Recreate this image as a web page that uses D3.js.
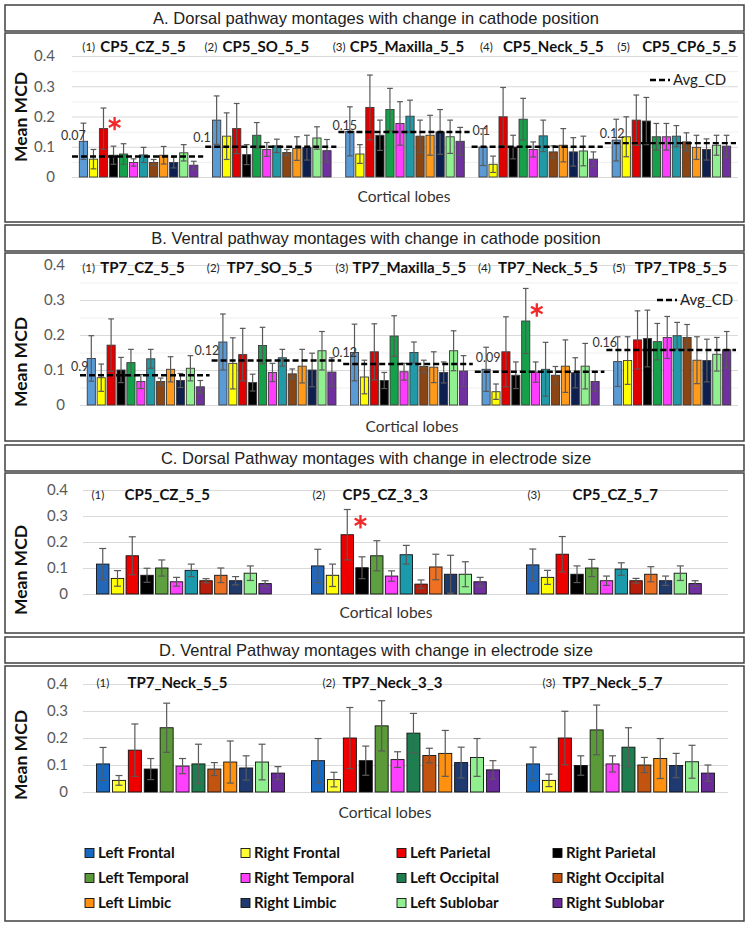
<!DOCTYPE html>
<html>
<head>
<meta charset="utf-8">
<script src="https://cdn.jsdelivr.net/npm/d3@7"></script>
<style>
  body { margin: 0; background: #fff; }
  svg { display: block; }
</style>
</head>
<body>
<script>
var lobes = ['Left Frontal', 'Right Frontal', 'Left Parietal', 'Right Parietal',
             'Left Temporal', 'Right Temporal', 'Left Occipital', 'Right Occipital',
             'Left Limbic', 'Right Limbic', 'Left Sublobar', 'Right Sublobar'];

var yTicks = [0, 0.1, 0.2, 0.3, 0.4];
var yTickLabels = ['0', '0.1', '0.2', '0.3', '0.4'];
var minorTicks = [0.05, 0.15, 0.25, 0.35];

// A. dorsal, cathode position
var montagesA = ['CP5_CZ_5_5', 'CP5_SO_5_5', 'CP5_Maxilla_5_5', 'CP5_Neck_5_5', 'CP5_CP6_5_5'];
var meanA = [
  [0.118, 0.059, 0.160, 0.072, 0.076, 0.048, 0.073, 0.048, 0.072, 0.048, 0.080, 0.039],
  [0.188, 0.135, 0.160, 0.074, 0.138, 0.091, 0.103, 0.081, 0.094, 0.097, 0.129, 0.087],
  [0.151, 0.076, 0.230, 0.138, 0.223, 0.177, 0.201, 0.135, 0.138, 0.149, 0.133, 0.118],
  [0.099, 0.042, 0.199, 0.099, 0.191, 0.091, 0.136, 0.083, 0.105, 0.083, 0.086, 0.059],
  [0.122, 0.133, 0.188, 0.185, 0.133, 0.133, 0.135, 0.116, 0.098, 0.091, 0.105, 0.102]
];
var errA = [
  [0.060, 0.032, 0.068, 0.030, 0.034, 0.012, 0.025, 0.010, 0.029, 0.018, 0.027, 0.013],
  [0.080, 0.077, 0.083, 0.033, 0.042, 0.023, 0.022, 0.010, 0.039, 0.041, 0.037, 0.037],
  [0.081, 0.031, 0.107, 0.050, 0.070, 0.072, 0.053, 0.053, 0.066, 0.074, 0.055, 0.046],
  [0.061, 0.027, 0.097, 0.039, 0.069, 0.025, 0.052, 0.020, 0.055, 0.047, 0.049, 0.024],
  [0.069, 0.066, 0.083, 0.078, 0.044, 0.044, 0.035, 0.030, 0.040, 0.035, 0.033, 0.036]
];
var avgA = [0.068, 0.1, 0.149, 0.1, 0.112];
var avgLabelA = ['0.07', '0.1', '0.15', '0.1', '0.12'];
var starA = [[0, 2]];

// B. ventral, cathode position
var montagesB = ['TP7_CZ_5_5', 'TP7_SO_5_5', 'TP7_Maxilla_5_5', 'TP7_Neck_5_5', 'TP7_TP8_5_5'];
var meanB = [
  [0.133, 0.078, 0.171, 0.100, 0.121, 0.067, 0.132, 0.067, 0.102, 0.070, 0.105, 0.052],
  [0.180, 0.119, 0.144, 0.064, 0.170, 0.093, 0.135, 0.089, 0.111, 0.100, 0.155, 0.094],
  [0.150, 0.080, 0.152, 0.070, 0.197, 0.095, 0.150, 0.110, 0.108, 0.093, 0.155, 0.097],
  [0.102, 0.038, 0.152, 0.085, 0.240, 0.094, 0.102, 0.085, 0.111, 0.092, 0.111, 0.067],
  [0.124, 0.127, 0.186, 0.190, 0.181, 0.193, 0.198, 0.193, 0.128, 0.127, 0.145, 0.158]
];
var errB = [
  [0.065, 0.039, 0.075, 0.036, 0.038, 0.020, 0.027, 0.010, 0.036, 0.020, 0.036, 0.018],
  [0.080, 0.073, 0.075, 0.024, 0.052, 0.026, 0.024, 0.014, 0.048, 0.048, 0.055, 0.041],
  [0.081, 0.048, 0.080, 0.023, 0.058, 0.024, 0.030, 0.018, 0.044, 0.030, 0.057, 0.044],
  [0.063, 0.022, 0.100, 0.038, 0.093, 0.029, 0.077, 0.025, 0.075, 0.043, 0.065, 0.028],
  [0.071, 0.068, 0.083, 0.081, 0.052, 0.060, 0.038, 0.037, 0.067, 0.061, 0.048, 0.052]
];
var avgB = [0.085, 0.127, 0.117, 0.095, 0.157];
var avgLabelB = ['0.9', '0.12', '0.12', '0.09', '0.16'];
var starB = [[3, 4]];

// C. dorsal, electrode size
var montagesC = ['CP5_CZ_5_5', 'CP5_CZ_3_3', 'CP5_CZ_5_7'];
var meanC = [
  [0.115, 0.060, 0.147, 0.072, 0.100, 0.047, 0.091, 0.051, 0.072, 0.051, 0.080, 0.040],
  [0.108, 0.072, 0.228, 0.101, 0.147, 0.069, 0.151, 0.038, 0.104, 0.076, 0.076, 0.047],
  [0.112, 0.064, 0.153, 0.076, 0.100, 0.051, 0.096, 0.051, 0.076, 0.051, 0.080, 0.040]
];
var errC = [
  [0.060, 0.030, 0.073, 0.027, 0.031, 0.017, 0.024, 0.008, 0.028, 0.016, 0.028, 0.011],
  [0.064, 0.043, 0.097, 0.042, 0.058, 0.020, 0.036, 0.016, 0.049, 0.073, 0.048, 0.017],
  [0.061, 0.027, 0.068, 0.032, 0.033, 0.018, 0.024, 0.009, 0.029, 0.018, 0.028, 0.011]
];
var starC = [[1, 2]];

// D. ventral, electrode size
var montagesD = ['TP7_Neck_5_5', 'TP7_Neck_3_3', 'TP7_Neck_5_7'];
var meanD = [
  [0.104, 0.043, 0.155, 0.085, 0.238, 0.096, 0.104, 0.085, 0.111, 0.089, 0.111, 0.070],
  [0.116, 0.046, 0.200, 0.116, 0.245, 0.120, 0.218, 0.135, 0.143, 0.109, 0.128, 0.082],
  [0.104, 0.043, 0.200, 0.098, 0.230, 0.104, 0.166, 0.100, 0.124, 0.098, 0.112, 0.070]
];
var errD = [
  [0.061, 0.018, 0.097, 0.039, 0.091, 0.028, 0.073, 0.024, 0.078, 0.045, 0.066, 0.024],
  [0.082, 0.027, 0.113, 0.054, 0.093, 0.029, 0.073, 0.027, 0.085, 0.057, 0.070, 0.034],
  [0.062, 0.023, 0.099, 0.036, 0.092, 0.030, 0.072, 0.028, 0.074, 0.045, 0.061, 0.030]
];

var colorsAB = ['#5b9bd5', '#ffff00', '#e00000', '#000000', '#15a04a', '#ff3cff',
                '#1f9aa6', '#8b4513', '#ff9a1a', '#0d1f4f', '#90f090', '#7030a0'];
var colorsC = ['#2466b8', '#ffff00', '#ee0000', '#000000', '#5ea040', '#ff40ff',
               '#1a9aaa', '#b81c0a', '#ee7022', '#1f3a6a', '#90f090', '#7030a0'];
var colorsD = ['#1668c0', '#ffff33', '#ee0000', '#000000', '#5a9a38', '#ff40ff',
               '#1e7e50', '#c25410', '#ff9010', '#1f3a70', '#90f090', '#6a2a9a'];

var chartFont = 'Lato, "Open Sans", sans-serif';

var svg = d3.select('body').append('svg')
  .attr('width', 749)
  .attr('height', 929);

function drawPanel(p) {
  var g = svg.append('g');

  // title box
  g.append('rect')
    .attr('x', 5).attr('y', p.titleTop)
    .attr('width', 739).attr('height', 26)
    .attr('fill', '#fff').attr('stroke', '#404040').attr('stroke-width', 1.5);
  g.append('text')
    .attr('x', 376).attr('y', p.titleTop + 13).attr('dy', '0.35em')
    .attr('text-anchor', 'middle')
    .style('font-family', '"Liberation Sans", Arial, sans-serif')
    .style('font-size', '16.5px')
    .attr('fill', '#222')
    .text(p.title);

  // chart box
  g.append('rect')
    .attr('x', 5).attr('y', p.boxTop)
    .attr('width', 739).attr('height', p.boxBottom - p.boxTop)
    .attr('fill', '#fff').attr('stroke', '#404040').attr('stroke-width', 1.5);

  var y = d3.scaleLinear().domain([0, 0.4]).range([p.y0, p.y4]);
  var x0 = d3.scaleBand().domain(p.montages).range(p.xRange)
    .paddingInner(p.pad).paddingOuter(p.pad / 2);
  var x1 = d3.scaleBand().domain(lobes).range([0, x0.bandwidth() * p.fill])
    .paddingInner(p.barPad);
  var width = p.xRange[1] - p.xRange[0];

  if (p.minor) {
    g.append('g')
      .attr('transform', 'translate(' + p.xRange[0] + ',0)')
      .call(d3.axisLeft(y).tickValues(minorTicks).tickSize(-width).tickFormat(''))
      .call(function(a) { a.select('.domain').remove(); })
      .selectAll('line').attr('stroke', '#efefef');
  }

  g.append('g')
    .attr('transform', 'translate(' + p.xRange[0] + ',0)')
    .call(d3.axisLeft(y).tickValues(yTicks).tickSize(-width).tickFormat(''))
    .call(function(a) { a.select('.domain').remove(); })
    .selectAll('line').attr('stroke', '#d9d9d9');

  var yAxis = g.append('g')
    .attr('transform', 'translate(' + p.tickX + ',0)')
    .call(d3.axisLeft(y).tickValues(yTicks)
      .tickFormat(function(d, i) { return yTickLabels[i]; })
      .tickSize(0).tickPadding(0));
  yAxis.select('.domain').remove();
  yAxis.selectAll('text')
    .style('font-family', chartFont)
    .style('font-size', '15px')
    .attr('fill', '#595959');

  // subtitles
  var sub = g.selectAll('.sub')
    .data(p.montages)
    .enter().append('g');
  sub.append('text')
    .attr('x', function(d, i) { return x0(d) + p.subNum[i]; })
    .attr('y', p.subY).attr('dy', '0.35em')
    .style('font-family', chartFont).style('font-size', '11.5px')
    .attr('fill', '#222')
    .text(function(d, i) { return '(' + (i + 1) + ')'; });
  sub.append('text')
    .attr('x', function(d, i) { return x0(d) + p.subName[i]; })
    .attr('y', p.subY).attr('dy', '0.35em')
    .style('font-family', chartFont).style('font-size', '15px').style('font-weight', 'bold')
    .attr('fill', '#111')
    .text(function(d) { return d; });

  // bars
  var groups = g.selectAll('.grp')
    .data(p.montages)
    .enter().append('g')
    .attr('transform', function(d) { return 'translate(' + x0(d) + ',0)'; });

  groups.each(function(m, gi) {
    var rows = lobes.map(function(l, j) {
      return { lobe: l, j: j, v: p.mean[gi][j], e: p.err[gi][j] };
    });
    var grp = d3.select(this);
    grp.selectAll('rect')
      .data(rows)
      .enter().append('rect')
      .attr('x', function(d) { return x1(d.lobe); })
      .attr('y', function(d) { return y(d.v); })
      .attr('width', x1.bandwidth())
      .attr('height', function(d) { return y(0) - y(d.v); })
      .attr('fill', function(d) { return p.colors[d.j]; })
      .attr('stroke', p.barStroke)
      .attr('stroke-width', 0.9);

    var cap = Math.min(x1.bandwidth() * 0.7, 7) / 2;
    var eb = grp.selectAll('.eb')
      .data(rows)
      .enter().append('g')
      .attr('stroke', '#595959')
      .attr('stroke-width', 1.2);
    eb.append('line')
      .attr('x1', function(d) { return x1(d.lobe) + x1.bandwidth() / 2; })
      .attr('x2', function(d) { return x1(d.lobe) + x1.bandwidth() / 2; })
      .attr('y1', function(d) { return y(d.v - d.e); })
      .attr('y2', function(d) { return y(d.v + d.e); });
    eb.append('line')
      .attr('x1', function(d) { return x1(d.lobe) + x1.bandwidth() / 2 - cap; })
      .attr('x2', function(d) { return x1(d.lobe) + x1.bandwidth() / 2 + cap; })
      .attr('y1', function(d) { return y(d.v + d.e); })
      .attr('y2', function(d) { return y(d.v + d.e); });
    eb.append('line')
      .attr('x1', function(d) { return x1(d.lobe) + x1.bandwidth() / 2 - cap; })
      .attr('x2', function(d) { return x1(d.lobe) + x1.bandwidth() / 2 + cap; })
      .attr('y1', function(d) { return y(d.v - d.e); })
      .attr('y2', function(d) { return y(d.v - d.e); });
  });

  // average lines
  if (p.avg) {
    var half = x0.step() * p.pad / 2;
    var lineStart = function(i) { return x0(p.montages[i]) - half; };
    g.selectAll('.avg')
      .data(p.avg)
      .enter().append('line')
      .attr('x1', function(d, i) { return lineStart(i); })
      .attr('x2', function(d, i) { return lineStart(i) + x0.step() - 2; })
      .attr('y1', function(d) { return y(d); })
      .attr('y2', function(d) { return y(d); })
      .attr('stroke', '#000')
      .attr('stroke-width', 2.4)
      .attr('stroke-dasharray', '6,3');
    g.selectAll('.avgLabel')
      .data(p.avg)
      .enter().append('text')
      .attr('x', function(d, i) { return lineStart(i) + p.avgDx[i]; })
      .attr('y', function(d, i) { return y(d) + p.avgDy[i]; })
      .style('font-family', chartFont).style('font-size', '12.5px')
      .attr('fill', '#333')
      .text(function(d, i) { return p.avgLabel[i]; });

    g.append('line')
      .attr('x1', p.avgLegend[0]).attr('x2', p.avgLegend[0] + 20)
      .attr('y1', p.avgLegend[1]).attr('y2', p.avgLegend[1])
      .attr('stroke', '#000').attr('stroke-width', 2.4)
      .attr('stroke-dasharray', '6,3');
    g.append('text')
      .attr('x', p.avgLegend[0] + 23).attr('y', p.avgLegend[1]).attr('dy', '0.35em')
      .style('font-family', chartFont).style('font-size', '15px')
      .attr('fill', '#222')
      .text('Avg_CD');
  }

  // significance marks
  g.selectAll('.star')
    .data(p.stars)
    .enter().append('path')
    .attr('d', d3.symbol().type(d3.symbolAsterisk).size(125))
    .attr('transform', function(d) {
      var sx = x0(p.montages[d[0]]) + x1(lobes[d[1]]) + x1.bandwidth() + 7;
      var sy = y(p.mean[d[0]][d[1]]) + p.starDy;
      return 'translate(' + sx + ',' + sy + ')';
    })
    .attr('fill', 'none')
    .attr('stroke', '#f02a2a')
    .attr('stroke-width', 2.3);

  // axis titles
  g.append('text')
    .attr('transform', 'translate(21,' + p.ylabY + ') rotate(-90)')
    .attr('text-anchor', 'middle').attr('dy', '0.35em')
    .style('font-family', chartFont).style('font-size', '17.5px').style('font-weight', 'bold')
    .attr('fill', '#111')
    .text('Mean MCD');
  g.append('text')
    .attr('x', p.cortX).attr('y', p.cortY).attr('dy', '0.35em')
    .attr('text-anchor', 'middle')
    .style('font-family', chartFont).style('font-size', '15.5px')
    .attr('fill', '#333')
    .text('Cortical lobes');
}

drawPanel({
  title: 'A. Dorsal pathway montages with change in cathode position',
  titleTop: 5, boxTop: 33, boxBottom: 222,
  y0: 177, y4: 56, xRange: [72, 738], pad: 0.11, fill: 1, barPad: 0.18,
  tickX: 55, ylabY: 117, cortX: 404, cortY: 197, subY: 47,
  subNum: [3, -8, -13, 1, 5], subName: [21, 10, 4, 24, 30],
  minor: true, montages: montagesA, mean: meanA, err: errA,
  colors: colorsAB, barStroke: '#3a3a3a',
  avg: avgA, avgLabel: avgLabelA,
  avgDx: [-11, -12, -6, 1, -5], avgDy: [-16, -5, -2, -12, -5],
  avgLegend: [650, 80], stars: starA, starDy: -5
});

drawPanel({
  title: 'B. Ventral pathway montages with change in cathode position',
  titleTop: 225, boxTop: 253, boxBottom: 441,
  y0: 405, y4: 265, xRange: [80, 738], pad: 0.11, fill: 1, barPad: 0.18,
  tickX: 65, ylabY: 362, cortX: 412, cortY: 427, subY: 268,
  subNum: [-5, -12, -15, -4, -1], subName: [13, 8, 2, 16, 21],
  minor: true, montages: montagesB, mean: meanB, err: errB,
  colors: colorsAB, barStroke: '#3a3a3a',
  avg: avgB, avgLabel: avgLabelB,
  avgDx: [-9, -17, -11, 1, -14], avgDy: [-4, -6, -7, -10, -3],
  avgLegend: [657, 300], stars: starB, starDy: -11
});

drawPanel({
  title: 'C. Dorsal Pathway montages with change in electrode size',
  titleTop: 445, boxTop: 473, boxBottom: 633,
  y0: 594, y4: 490, xRange: [83, 728], pad: 0.126, fill: 0.93, barPad: 0.16,
  tickX: 68, ylabY: 570, cortX: 386, cortY: 613, subY: 495,
  subNum: [-5, 1, 1], subName: [28, 31, 46],
  minor: false, montages: montagesC, mean: meanC, err: errC,
  colors: colorsC, barStroke: '#111',
  stars: starC, starDy: -13
});

drawPanel({
  title: 'D. Ventral Pathway montages with change in electrode size',
  titleTop: 637, boxTop: 666, boxBottom: 921,
  y0: 792, y4: 684, xRange: [83, 728], pad: 0.126, fill: 1, barPad: 0.18,
  tickX: 68, ylabY: 755, cortX: 385, cortY: 813, subY: 683,
  subNum: [0, 11, 16], subName: [31, 31, 36],
  minor: false, montages: montagesD, mean: meanD, err: errD,
  colors: colorsD, barStroke: '#111',
  stars: []
});

// legend
var legend = svg.append('g')
  .selectAll('g')
  .data(lobes)
  .enter().append('g')
  .attr('transform', function(d, i) {
    return 'translate(' + (85 + (i % 4) * 156) + ',' + (853 + Math.floor(i / 4) * 25) + ')';
  });
legend.append('rect')
  .attr('x', 0).attr('y', -4.5)
  .attr('width', 9).attr('height', 9)
  .attr('fill', function(d, i) { return colorsD[i]; })
  .attr('stroke', '#111').attr('stroke-width', 0.9);
legend.append('text')
  .attr('x', 13).attr('dy', '0.35em')
  .style('font-family', chartFont).style('font-size', '15px').style('font-weight', 'bold')
  .attr('fill', '#111')
  .text(function(d) { return d; });
</script>
</body>
</html>
